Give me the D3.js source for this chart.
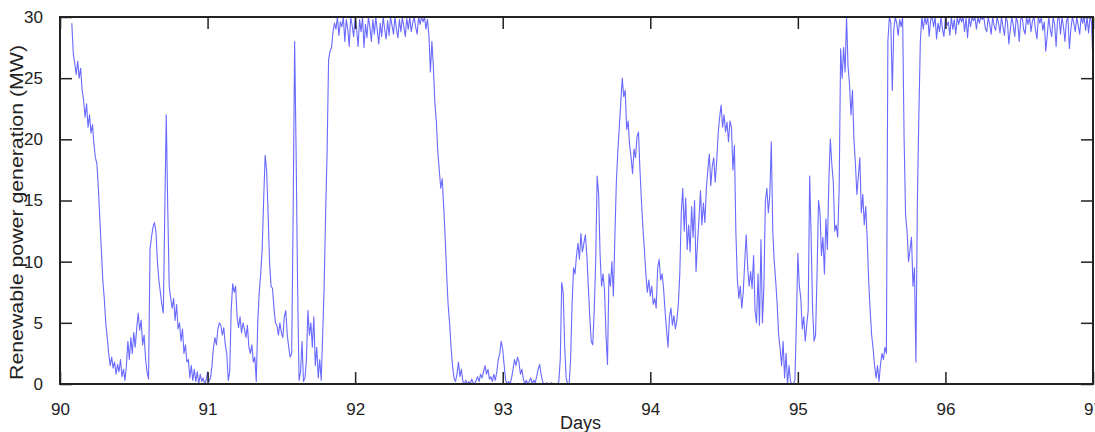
<!DOCTYPE html>
<html>
<head>
<meta charset="utf-8">
<script src="https://cdn.jsdelivr.net/npm/d3@7"></script>
<style>
  body { margin: 0; background: #fff; }
  svg text { font-family: "Liberation Sans", Arial, sans-serif; fill: #222; }
</style>
</head>
<body>
<div id="chart"></div>
<script>
// sampled every 0.01 day, starting at day 90.08
var startDay = 90.08;
var stepDay = 0.01;
var power = [
  29.5, 27.0,
  26.2, 25.3, 26.4, 25.0, 25.8, 24.0, 23.2, 21.8, 22.9, 21.0,
  22.0, 20.5, 21.2, 19.6, 18.5, 18.0, 16.0, 13.5, 11.0, 8.5,
  7.0, 5.0, 3.8, 2.5, 1.5, 2.2, 1.3, 1.8, 0.8, 1.6,
  1.0, 2.0, 0.6, 1.2, 0.3, 1.5, 3.5, 2.0, 3.8, 2.5,
  4.2, 3.0, 4.6, 5.8, 4.4, 5.2, 3.2, 4.0, 2.0, 1.0,
  0.4, 11.0, 12.0, 12.8, 13.2, 12.5, 10.0, 8.5, 7.5, 6.5,
  5.8, 14.0, 22.0, 14.5, 8.0, 7.0, 6.2, 7.0, 5.2, 6.5,
  4.5, 5.0, 3.5, 4.5, 2.5, 3.2, 1.8, 2.0, 0.5, 1.5,
  0.3, 1.2, 0.2, 1.0, 0.0, 0.8, 0.2, 0.5, 0.0, 0.3,
  1.0, 0.2, 0.5, 1.5, 3.0, 3.8, 3.2, 4.5, 5.0, 4.8,   // 91.0
  4.0, 4.6, 3.2, 2.5, 0.3, 1.0, 6.0, 8.2, 7.5, 8.0,
  5.5, 4.6, 5.5, 4.2, 5.0, 4.5, 3.8, 4.8, 3.0, 2.5,
  3.2, 1.8, 2.2, 0.2, 5.0, 7.5, 9.0, 11.0, 15.0, 18.7,
  17.5, 14.0, 10.0, 8.0, 7.8, 6.2, 5.0, 4.8, 4.0, 5.0,
  4.2, 3.8, 5.5, 6.0, 4.0, 3.0, 2.2, 2.5, 14.0, 28.0,
  19.0, 8.0, 0.3, 1.0, 3.5, 0.2, 0.5, 2.0, 6.0, 4.0,
  5.0, 3.0, 5.5, 1.5, 3.0, 0.5, 2.0, 0.3, 4.0, 8.0,
  14.0, 19.0, 26.5, 27.2, 27.5, 28.8, 29.5, 29.0, 30.0, 28.5,
  29.6, 29.2, 30.0, 28.0, 29.8, 29.0, 27.6, 30.0, 29.3, 28.4,
  30.0, 29.0, 27.6, 29.8, 28.8, 30.0, 27.5, 29.4, 28.3, 30.0,   // 92.0
  29.2, 28.0, 29.8, 28.6, 30.0, 28.9, 27.8, 29.5, 28.4, 30.0,
  29.0, 28.2, 29.7, 28.5, 30.0, 29.3, 28.6, 30.0, 29.0, 28.3,
  29.8, 28.8, 30.0, 29.2, 28.4, 29.9, 29.0, 30.0, 28.8, 29.5,
  30.0, 29.2, 28.6, 30.0, 29.4, 30.0, 29.6, 30.0, 29.0, 29.8,
  28.5, 25.5, 28.0, 26.0, 23.0, 21.5, 19.0, 17.5, 16.0, 16.8,
  14.5, 12.0, 9.0, 6.5, 5.0, 3.0, 1.5, 0.5, 0.2, 0.8,
  1.8, 0.6, 1.2, 0.2, 0.0, 0.3, 0.0, 0.2, 0.0, 0.4,
  0.1, 0.0, 0.3, 0.6, 0.2, 0.8, 0.5, 1.0, 1.5, 0.8,
  1.2, 0.4, 0.6, 0.2, 0.8, 0.3, 1.0, 2.0, 2.5, 3.5,
  2.8, 1.5, 0.3, 0.0, 0.2, 0.0, 0.5, 1.2, 2.0, 1.5,   // 93.0
  2.2, 1.8, 0.8, 1.2, 0.4, 0.0, 0.3, 0.0, 0.2, 0.5,
  0.0, 0.3, 0.1, 0.6, 1.2, 1.6, 0.8, 0.2, 0.0, 0.0,
  0.1, 0.0, 0.0, 0.1, 0.0, 0.0, 0.0, 0.0, 0.2, 2.0,
  8.3, 7.5, 3.0, 0.5, 0.0, 0.0, 2.0, 6.5, 9.5, 9.0,
  10.5, 11.5, 10.2, 12.3, 10.8, 11.5, 12.2, 10.5, 8.0, 5.5,
  3.5, 3.2, 6.0, 10.0, 17.0, 15.5, 10.5, 8.0, 9.0, 7.6,
  4.0, 1.6, 9.0, 8.0, 10.0, 7.2, 12.0, 16.5, 19.0, 21.0,
  23.0, 25.0, 23.5, 24.0, 20.8, 21.5, 19.5, 18.5, 17.2, 19.2,
  18.5, 20.2, 20.6, 17.5, 15.0, 12.8, 11.0, 9.0, 7.5, 8.5,
  7.2, 8.0, 6.5, 7.0, 6.2, 9.5, 10.2, 8.5, 9.0, 7.8,   // 94.0
  6.0, 4.5, 3.0, 5.5, 6.2, 4.8, 5.6, 4.5, 5.2, 6.5,
  9.0, 14.0, 16.0, 12.5, 15.2, 11.0, 13.0, 10.8, 14.5, 12.0,
  15.0, 9.2, 11.5, 13.5, 15.8, 13.0, 14.8, 13.2, 16.0, 17.5,
  18.8, 16.2, 17.8, 18.5, 16.5, 18.2, 20.5, 21.8, 22.8, 21.0,
  22.0, 20.6, 21.4, 19.8, 21.5, 21.0, 17.5, 19.5, 12.4, 8.5,
  7.0, 8.0, 6.2, 7.5, 10.0, 12.2, 9.5, 8.0, 9.2, 7.8,
  10.5, 6.0, 5.0, 9.0, 4.8, 11.8, 5.0, 8.0, 15.0, 16.0,
  14.0, 15.5, 19.8, 12.5, 10.0, 8.4, 6.5, 4.0, 2.9, 1.5,
  3.5, 0.5, 2.5, 0.0, 1.5, 0.2, 0.0, 0.0, 0.3, 5.0,
  10.7, 8.0, 7.0, 4.5, 5.5, 3.5, 4.8, 6.0, 17.0, 12.0,   // 95.0
  6.0, 3.5, 4.0, 9.0, 15.0, 14.0, 10.5, 12.0, 9.0, 13.5,
  11.0, 16.6, 20.0, 18.0, 16.5, 12.5, 13.0, 12.0, 16.0, 27.4,
  25.0, 27.5, 25.5, 30.0, 26.0, 24.5, 22.0, 24.0, 20.0, 18.0,
  15.5, 17.0, 18.5, 14.0, 15.5, 13.0, 14.5, 11.8, 8.4, 6.0,
  4.0, 2.9, 1.5, 0.5, 1.5, 0.2, 1.6, 2.5, 2.0, 3.0,
  2.5, 28.0, 30.0, 29.5, 24.0, 29.0, 30.0, 29.5, 28.5, 29.8,
  29.2, 30.0, 20.0, 13.8, 12.5, 10.0, 11.0, 12.0, 8.0, 9.5,
  1.8, 15.0, 22.0, 28.0, 30.0, 29.0, 30.0, 29.4, 30.0, 28.4,
  29.8, 30.0, 29.2, 30.0, 28.2, 29.5, 28.8, 30.0, 29.0, 28.4,
  30.0, 29.3, 29.6, 28.5, 30.0, 29.0, 29.8, 28.6, 30.0, 29.4,   // 96.0
  30.0, 29.6, 30.0, 28.8, 29.9, 28.3, 30.0, 29.2, 30.0, 29.7,
  30.0, 29.0, 30.0, 29.5, 30.0, 29.8, 30.0, 29.1, 28.8, 30.0,
  29.4, 28.6, 30.0, 29.3, 28.9, 30.0, 29.5, 28.7, 30.0, 29.2,
  28.5, 30.0, 29.6, 27.8, 29.0, 30.0, 29.3, 28.4, 30.0, 29.5,
  28.0, 29.8, 30.0, 29.0, 28.6, 30.0, 29.4, 30.0, 28.8, 29.7,
  30.0, 29.0, 28.2, 30.0, 29.5, 30.0, 28.9, 29.6, 27.2, 28.5,
  30.0, 29.0, 28.4, 30.0, 29.4, 27.6, 29.8, 30.0, 28.6, 30.0,
  29.2, 28.0, 29.7, 30.0, 27.4, 29.0, 30.0, 29.5, 28.8, 30.0,
  29.3, 28.6, 30.0, 29.5, 30.0, 28.9, 30.0, 28.7, 30.0, 29.6,
  26.0   // 97.0
];
var xTicks = [90, 91, 92, 93, 94, 95, 96, 97];
var yTicks = [0, 5, 10, 15, 20, 25, 30];
var xLabel = "Days";
var yLabel = "Renewable power generation (MW)";

var width = 1095, height = 432;
var margin = {top: 17, right: 2, bottom: 48, left: 60};
var w = width - margin.left - margin.right;
var h = height - margin.top - margin.bottom;

var points = power.map(function(v, i) {
  return {x: startDay + i * stepDay, y: v};
});

var x = d3.scaleLinear().domain([90, 97]).range([0, w]);
var y = d3.scaleLinear().domain([0, 30]).range([h, 0]);

var svg = d3.select("#chart").append("svg")
  .attr("width", width)
  .attr("height", height);

var g = svg.append("g")
  .attr("transform", "translate(" + margin.left + "," + margin.top + ")");

var line = d3.line()
  .x(function(d) { return x(d.x); })
  .y(function(d) { return y(d.y); });

g.append("path")
  .attr("d", line(points))
  .attr("fill", "none")
  .attr("stroke", "#2a2aff")
  .attr("stroke-opacity", 0.7)
  .attr("stroke-width", 1.1)
  .attr("stroke-linejoin", "round");

// axes: ticks point inward, on all four sides
var tickLen = 12;
function styleAxis(sel) {
  sel.select(".domain").remove();
  sel.selectAll(".tick line").attr("stroke", "#222").attr("stroke-width", 1.5);
  sel.selectAll(".tick text").attr("font-size", 17).attr("fill", "#222");
}

g.append("g")
  .attr("transform", "translate(0," + h + ")")
  .call(d3.axisBottom(x).tickValues(xTicks).tickFormat(d3.format("d"))
    .tickSizeInner(-tickLen).tickPadding(tickLen + 7))
  .call(styleAxis);

g.append("g")
  .call(d3.axisTop(x).tickValues(xTicks).tickSizeInner(-tickLen).tickFormat(""))
  .call(styleAxis);

g.append("g")
  .call(d3.axisLeft(y).tickValues(yTicks).tickFormat(d3.format("d"))
    .tickSizeInner(-tickLen).tickPadding(tickLen + 5))
  .call(styleAxis);

g.append("g")
  .attr("transform", "translate(" + w + ",0)")
  .call(d3.axisRight(y).tickValues(yTicks).tickSizeInner(-tickLen).tickFormat(""))
  .call(styleAxis);

// frame
g.append("rect")
  .attr("width", w)
  .attr("height", h)
  .attr("fill", "none")
  .attr("stroke", "#222")
  .attr("stroke-width", 2);

svg.append("text")
  .attr("x", margin.left + w / 2 + 4)
  .attr("y", 429)
  .attr("text-anchor", "middle")
  .attr("font-size", 18)
  .text(xLabel);

svg.append("text")
  .attr("transform", "translate(23," + (margin.top + h / 2 + 12) + ") rotate(-90)")
  .attr("text-anchor", "middle")
  .attr("font-size", 18)
  .attr("textLength", 335)
  .attr("lengthAdjust", "spacingAndGlyphs")
  .text(yLabel);
</script>
</body>
</html>
